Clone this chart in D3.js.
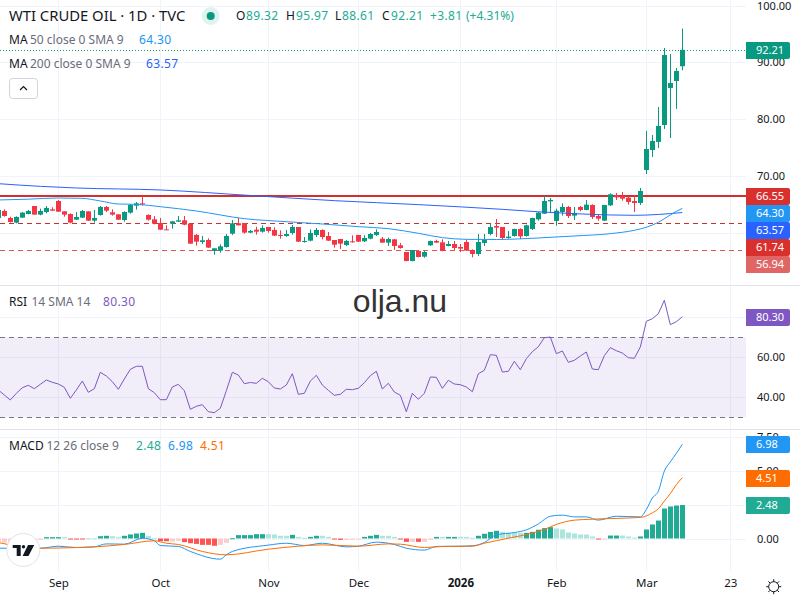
<!DOCTYPE html>
<html>
<head>
<meta charset="utf-8">
<title>WTI Crude Oil</title>
<script src="https://cdn.jsdelivr.net/npm/d3@7"></script>
<style>
  html, body { margin: 0; padding: 0; background: #fff; }
  svg { display: block; font-family: "Noto Sans", sans-serif; }
</style>
</head>
<body>
<svg id="chart" width="800" height="600"></svg>
<script>
// Daily candles, one row of ten per line
const open = [
  62.60, 63.84, 62.61, 61.79, 62.67, 63.31, 64.72, 63.20, 63.66, 64.13,
  65.60, 63.78, 63.31, 62.31, 62.67, 63.78, 62.14, 63.14, 64.55, 63.61,
  63.25, 62.26, 63.55, 64.78, 65.19, 63.14, 62.37, 61.73, 60.61, 61.61,
  61.96, 62.20, 61.61, 59.62, 58.38, 58.73, 56.80, 56.86, 57.50, 59.85,
  61.67, 61.73, 60.03, 60.55, 60.20, 61.02, 60.50, 59.62, 59.44, 59.97,
  61.02, 58.38, 58.62, 59.62, 60.50, 59.44, 58.73, 58.91, 57.85, 58.50,
  59.62, 58.50, 58.97, 59.62, 58.97, 58.27, 58.85, 57.80, 56.62, 55.04,
  56.80, 55.80, 57.80, 58.56, 58.32, 57.68, 58.03, 57.50, 58.38, 56.97,
  56.27, 58.21, 59.79, 61.20, 61.02, 59.09, 59.44, 60.67, 59.44, 60.67,
  62.37, 63.37, 65.54, 62.08, 63.66, 64.55, 63.02, 64.55, 64.02, 64.90,
  62.96, 62.14, 64.84, 66.66, 66.48, 66.19, 65.60, 65.25, 71.06, 74.58,
  76.00, 78.98, 85.50, 86.73, 89.32
];
const high = [
  64.13, 64.13, 62.84, 62.90, 63.66, 64.02, 64.72, 64.25, 64.72, 64.49,
  65.78, 63.78, 63.43, 63.66, 64.02, 63.78, 64.02, 64.72, 64.72, 64.13,
  63.25, 63.78, 65.07, 65.43, 66.37, 63.25, 62.96, 62.61, 61.32, 62.08,
  62.96, 62.96, 61.61, 59.79, 59.44, 59.03, 57.27, 57.97, 59.79, 62.26,
  62.61, 61.73, 60.50, 61.08, 61.32, 61.02, 60.97, 60.44, 60.50, 61.38,
  61.02, 59.26, 60.61, 60.85, 60.61, 60.14, 58.73, 58.91, 58.73, 59.56,
  59.62, 59.56, 59.97, 60.61, 59.26, 59.15, 58.91, 58.21, 56.62, 56.97,
  56.86, 56.80, 58.62, 58.79, 58.85, 58.56, 58.56, 58.03, 58.85, 57.09,
  59.79, 59.79, 61.55, 62.43, 61.02, 60.32, 60.73, 60.79, 61.43, 62.67,
  63.66, 66.48, 66.13, 64.25, 65.19, 64.72, 64.55, 64.72, 65.78, 65.01,
  63.31, 64.90, 66.95, 67.01, 67.19, 66.37, 66.60, 67.89, 77.93, 77.22,
  82.15, 92.54, 91.48, 89.02, 95.97
];
const low = [
  62.26, 62.84, 61.79, 61.67, 62.61, 63.25, 63.20, 63.08, 63.43, 63.84,
  63.66, 62.84, 61.67, 62.26, 62.61, 62.08, 61.79, 63.02, 63.66, 63.02,
  62.26, 61.96, 63.37, 64.08, 64.78, 62.14, 61.49, 60.50, 60.50, 60.73,
  61.90, 61.32, 58.03, 57.74, 58.03, 57.33, 56.15, 56.50, 57.39, 59.62,
  61.26, 59.85, 59.91, 59.67, 60.03, 60.03, 59.44, 58.97, 59.32, 59.67,
  58.38, 58.27, 58.50, 59.26, 58.85, 58.56, 57.39, 57.15, 57.68, 58.27,
  58.38, 58.38, 58.85, 59.44, 58.21, 57.68, 56.97, 57.21, 54.98, 54.98,
  55.68, 55.62, 57.68, 58.21, 56.74, 57.62, 56.97, 56.62, 56.80, 55.68,
  55.92, 57.68, 59.56, 59.26, 58.91, 58.97, 59.32, 58.91, 59.32, 60.50,
  62.14, 63.31, 63.61, 61.26, 63.02, 62.61, 62.26, 63.78, 63.96, 62.43,
  62.14, 62.08, 64.72, 65.78, 65.66, 64.96, 63.66, 64.90, 70.36, 73.35,
  74.93, 78.28, 76.69, 81.80, 88.61
];
const close = [
  64.02, 62.96, 61.90, 62.78, 63.55, 63.84, 63.20, 63.84, 64.37, 63.90,
  63.72, 63.20, 61.79, 62.78, 63.84, 62.14, 62.61, 64.55, 63.90, 63.20,
  62.31, 63.66, 64.90, 65.19, 65.07, 62.31, 61.61, 60.55, 60.55, 62.02,
  62.20, 61.43, 58.09, 58.44, 58.68, 57.39, 57.27, 57.62, 59.44, 61.67,
  61.32, 60.03, 60.32, 60.20, 60.85, 60.32, 59.50, 59.50, 59.79, 61.02,
  58.44, 58.56, 59.97, 60.50, 59.26, 58.62, 57.91, 58.09, 58.56, 58.38,
  58.44, 59.09, 59.79, 60.14, 58.27, 58.91, 57.68, 57.33, 55.04, 56.97,
  55.74, 56.62, 58.56, 58.27, 56.80, 58.03, 57.33, 57.21, 56.86, 56.27,
  58.38, 58.73, 61.02, 60.91, 59.09, 59.32, 60.67, 59.38, 61.32, 62.61,
  63.55, 65.60, 65.78, 63.90, 64.55, 62.96, 63.49, 64.02, 64.96, 62.78,
  62.49, 64.90, 66.78, 66.25, 66.01, 65.43, 65.25, 67.36, 74.76, 76.17,
  78.81, 91.31, 86.38, 88.49, 92.21
];

// Moving averages, sampled at these bars
const ma50Bars = [0, 5, 10, 14, 17, 20, 23, 27, 33, 41, 48, 54, 60, 65, 70, 74, 78, 83, 90, 96, 102, 106, 108, 110, 112, 113, 114];
const ma50Values = [65.78, 65.92, 66.13, 66.07, 65.60, 65.07, 65.01, 64.60, 63.84, 62.49, 61.96, 61.55, 61.08, 60.73, 59.91, 59.15, 58.85, 58.82, 59.09, 59.44, 59.85, 60.44, 60.97, 61.85, 63.14, 63.78, 64.30];
const ma200Bars = [0, 7, 13, 27, 42, 56, 70, 84, 90, 96, 102, 106, 110, 114];
const ma200Values = [68.65, 68.18, 67.89, 67.54, 66.57, 65.66, 64.96, 64.13, 63.70, 63.37, 63.14, 63.08, 63.23, 63.57];

// Relative strength index per bar
const rsiValues = [
  43.65, 41.15, 38.65, 41.98, 44.80, 46.00, 44.30, 46.50, 48.65, 47.50,
  46.65, 45.00, 39.50, 43.65, 48.15, 42.50, 44.30, 52.50, 50.65, 47.80,
  44.00, 49.15, 54.00, 55.50, 55.50, 44.30, 42.30, 38.80, 38.80, 45.15,
  46.50, 43.30, 34.00, 35.50, 36.30, 32.80, 32.30, 34.50, 43.30, 52.50,
  51.15, 46.80, 47.40, 47.00, 49.50, 47.80, 44.65, 44.15, 46.15, 51.80,
  41.50, 42.00, 48.15, 51.00, 46.15, 43.50, 41.00, 41.50, 44.00, 43.80,
  44.50, 47.30, 50.80, 53.00, 44.15, 47.00, 42.65, 41.00, 32.80, 42.00,
  39.00, 42.00, 50.15, 50.00, 44.50, 48.50, 46.65, 46.30, 45.15, 42.80,
  51.80, 53.50, 61.30, 61.00, 52.65, 53.00, 58.00, 53.80, 59.30, 62.80,
  65.30, 69.80, 70.15, 61.80, 63.15, 57.50, 58.50, 60.65, 62.65, 54.15,
  53.80, 60.80, 64.80, 63.30, 62.15, 59.80, 59.50, 65.15, 78.00, 79.30,
  81.80, 88.50, 76.30, 77.80, 80.30
];

// MACD histogram and its four shades: G rising, g easing, R falling, r recovering
const histValues = [
  -0.25, -0.30, -0.30, -0.25, -0.20, -0.20, -0.15, -0.10, 0.10, 0.10,
  0.10, 0.10, -0.03, -0.05, -0.03, 0.02, 0.02, 0.17, 0.20, 0.17,
  0.10, 0.20, 0.30, 0.37, 0.42, 0.20, 0.02, -0.20, -0.20, -0.22,
  -0.17, -0.27, -0.35, -0.40, -0.47, -0.47, -0.54, -0.47, -0.32, 0.02,
  0.25, 0.25, 0.25, 0.32, 0.32, 0.32, 0.30, 0.20, 0.20, 0.27,
  0.12, 0.05, 0.12, 0.20, 0.20, 0.12, -0.05, -0.10, -0.10, -0.10,
  -0.05, 0.12, 0.20, 0.27, 0.20, 0.20, 0.12, -0.05, -0.25, -0.25,
  -0.25, -0.25, -0.10, 0.12, 0.12, 0.12, 0.12, 0.12, 0.12, 0.05,
  0.20, 0.35, 0.49, 0.57, 0.49, 0.42, 0.42, 0.42, 0.42, 0.49,
  0.65, 0.77, 0.84, 0.74, 0.67, 0.44, 0.37, 0.30, 0.30, 0.15,
  -0.07, -0.02, 0.22, 0.22, 0.22, 0.15, 0.07, 0.15, 0.67, 1.04,
  1.33, 2.22, 2.37, 2.44, 2.48
];
const histShades = [
  "r","r","r","r","r","r","r","r","G","G",
  "G","g","R","R","R","g","g","G","G","g",
  "g","G","G","G","G","g","g","R","R","r",
  "r","R","R","R","R","R","R","r","r","G",
  "G","G","G","G","G","g","g","g","g","G",
  "g","g","G","G","g","g","R","R","r","r",
  "r","G","G","G","g","g","g","R","R","r",
  "R","r","r","G","g","G","G","g","g","g",
  "G","G","G","G","g","g","g","g","G","G",
  "G","G","G","g","g","g","g","g","g","g",
  "R","r","G","G","g","g","g","G","G","G",
  "G","G","G","G","G"
];
const shadeColors = { G: "#22ab94", g: "#ace5dc", R: "#ff5252", r: "#fccbcd" };

// MACD and signal lines, sampled at these bars
const macdBars = [0, 7, 10, 13, 16, 18, 21, 24, 26, 27, 30, 32, 37, 38, 39, 45, 48, 51, 54, 58, 60, 63, 66, 68, 71, 73, 77, 79, 81, 83, 86, 88, 90, 92, 94, 96, 98, 100, 103, 107, 108, 109, 110, 111, 112, 113, 114];
const macdValues = [-0.72, -0.72, -0.57, -0.67, -0.62, -0.40, -0.42, 0.02, -0.17, -0.52, -0.59, -0.96, -1.53, -1.21, -0.96, -0.49, -0.35, -0.52, -0.35, -0.62, -0.57, -0.27, -0.44, -0.72, -0.86, -0.59, -0.57, -0.54, -0.30, 0.27, 0.44, 0.64, 1.08, 1.65, 1.73, 1.60, 1.60, 1.36, 1.65, 1.60, 2.15, 3.00, 3.50, 4.99, 5.68, 6.30, 6.98];
const signalBars = [0, 7, 13, 16, 21, 26, 28, 30, 34, 38, 45, 50, 54, 60, 65, 67, 71, 74, 79, 81, 85, 89, 91, 93, 96, 99, 102, 107, 109, 110, 111, 112, 113, 114];
const signalValues = [-0.30, -0.72, -0.67, -0.62, -0.44, -0.17, -0.35, -0.44, -0.96, -1.21, -0.79, -0.57, -0.47, -0.57, -0.40, -0.42, -0.67, -0.59, -0.57, -0.35, 0.02, 0.40, 0.67, 1.04, 1.36, 1.43, 1.48, 1.56, 1.90, 2.20, 2.77, 3.33, 3.98, 4.51];

// Axis ticks
const timeTickBars = [10, 27, 45, 60, 77, 93, 108, 122];
const timeTickLabels = ["Sep", "Oct", "Nov", "Dec", "2026", "Feb", "Mar", "23"];
const priceTicks = [100, 90, 80, 70, 60];
const rsiTicks = [80, 60, 40];
const macdTicks = [7.5, 5, 2.5, 0];

// Horizontal levels
const resistanceLevel = 66.55;
const supportLevels = [61.74, 56.94];
const supportColors = ["#c9302c", "#e25555"];
const rsiBandLimits = [70, 30];
const lastClose = 92.21;
const ma50Last = 64.30;
const ma200Last = 63.57;
const rsiLast = 80.30;
const histLast = 2.48;
const macdLast = 6.98;
const signalLast = 4.51;

const UP = "#089981", DOWN = "#f23645", GRID = "#f0f3fa", SEP = "#e0e3eb";
const LEGEND_UP = "#22ab94";
const INK = "#131722", MUTED = "#6a6d78";
const PLOT_RIGHT = 746;
const fontSans = '"Noto Sans", sans-serif';

const svg = d3.select("#chart");

// Scales: every pane shares the bar scale
const x = d3.scaleLinear().domain([0, 122]).range([-1.67, 730.33]);
const yPrice = d3.scaleLinear().domain([60, 100]).range([232.8, 5.6]);
const yRsi = d3.scaleLinear().domain([40, 80]).range([397.3, 317.3]);
const yMacd = d3.scaleLinear().domain([0, 7.5]).range([538.5, 437.25]);

// Background grid
const gridLayer = svg.append("g").attr("stroke", GRID).attr("stroke-width", 1);
function hGrid(scale, ticks) {
  gridLayer.selectAll(null).data(ticks).join("line")
    .attr("x1", 0).attr("x2", PLOT_RIGHT)
    .attr("y1", d => Math.round(scale(d)) + 0.5)
    .attr("y2", d => Math.round(scale(d)) + 0.5);
}
hGrid(yPrice, priceTicks);
hGrid(yRsi, rsiTicks);
hGrid(yMacd, macdTicks);
gridLayer.selectAll(null).data(timeTickBars).join("line")
  .attr("x1", d => Math.round(x(d)) + 0.5).attr("x2", d => Math.round(x(d)) + 0.5)
  .attr("y1", 0).attr("y2", 571);

// Pane separators
svg.append("g").attr("stroke", SEP).selectAll("line").data([285.5, 429.5]).join("line")
  .attr("x1", 0).attr("x2", 800).attr("y1", d => d).attr("y2", d => d);

// Price levels sit behind the candles
svg.append("line").attr("x1", 0).attr("x2", PLOT_RIGHT)
  .attr("y1", Math.round(yPrice(resistanceLevel))).attr("y2", Math.round(yPrice(resistanceLevel)))
  .attr("stroke", "#d32f2f").attr("stroke-width", 2);
svg.append("g").selectAll("line").data(supportLevels).join("line")
  .attr("x1", 0).attr("x2", 742)
  .attr("y1", d => Math.round(yPrice(d)) + 0.5).attr("y2", d => Math.round(yPrice(d)) + 0.5)
  .attr("stroke", (d, i) => supportColors[i]).attr("stroke-dasharray", "5 4");

// Candles
const candles = svg.append("g").selectAll("g").data(open.map((o, i) => i)).join("g")
  .attr("fill", i => close[i] >= open[i] ? UP : DOWN);
candles.append("rect")
  .attr("x", i => Math.round(x(i))).attr("width", 1)
  .attr("y", i => yPrice(high[i]))
  .attr("height", i => yPrice(low[i]) - yPrice(high[i]));
candles.append("rect")
  .attr("x", i => Math.round(x(i)) - 2).attr("width", 5)
  .attr("y", i => yPrice(Math.max(open[i], close[i])))
  .attr("height", i => Math.max(1, Math.abs(yPrice(open[i]) - yPrice(close[i]))));

// Moving averages
function sampledLine(bars, values, scale) {
  return d3.line().x((d, i) => x(bars[i])).y(d => scale(d)).curve(d3.curveMonotoneX)(values);
}
svg.append("path").attr("d", sampledLine(ma200Bars, ma200Values, yPrice))
  .attr("fill", "none").attr("stroke", "#2962ff").attr("stroke-width", 1);
svg.append("path").attr("d", sampledLine(ma50Bars, ma50Values, yPrice))
  .attr("fill", "none").attr("stroke", "#2196f3").attr("stroke-width", 1);

// Last close marker line
svg.append("line").attr("x1", 0).attr("x2", PLOT_RIGHT)
  .attr("y1", Math.round(yPrice(lastClose)) + 0.5).attr("y2", Math.round(yPrice(lastClose)) + 0.5)
  .attr("stroke", UP).attr("stroke-dasharray", "1 2");

// RSI pane
svg.append("rect").attr("x", 0).attr("width", PLOT_RIGHT)
  .attr("y", yRsi(rsiBandLimits[0])).attr("height", yRsi(rsiBandLimits[1]) - yRsi(rsiBandLimits[0]))
  .attr("fill", "#7e57c2").attr("fill-opacity", 0.1);
svg.append("g").selectAll("line").data(rsiBandLimits).join("line")
  .attr("x1", 0).attr("x2", PLOT_RIGHT)
  .attr("y1", d => Math.round(yRsi(d)) + 0.5).attr("y2", d => Math.round(yRsi(d)) + 0.5)
  .attr("stroke", "#787b86").attr("stroke-dasharray", "5 4");
svg.append("path")
  .attr("d", d3.line().x((d, i) => x(i)).y(d => yRsi(d))(rsiValues))
  .attr("fill", "none").attr("stroke", "#7e57c2").attr("stroke-width", 1);

// MACD pane
svg.append("g").selectAll("rect").data(histValues).join("rect")
  .attr("x", (d, i) => Math.round(x(i)) - 2).attr("width", 5)
  .attr("y", d => d >= 0 ? yMacd(d) : yMacd(0))
  .attr("height", d => Math.max(1, Math.abs(yMacd(d) - yMacd(0))))
  .attr("fill", (d, i) => shadeColors[histShades[i]]);
svg.append("path").attr("d", sampledLine(macdBars, macdValues, yMacd))
  .attr("fill", "none").attr("stroke", "#2196f3").attr("stroke-width", 1);
svg.append("path").attr("d", sampledLine(signalBars, signalValues, yMacd))
  .attr("fill", "none").attr("stroke", "#ff6d00").attr("stroke-width", 1);

// Right-hand value axes and bottom time axis
function styleAxis(g) {
  g.select(".domain").remove();
  g.selectAll("text").attr("font-family", fontSans).attr("font-size", 11).attr("fill", INK);
}
const fmt = d3.format(".2f");
function valueAxis(scale, ticks) {
  svg.append("g").attr("transform", "translate(757,0)")
    .call(d3.axisRight(scale).tickValues(ticks).tickFormat(fmt).tickSize(0).tickPadding(0))
    .call(styleAxis);
}
valueAxis(yPrice, priceTicks);
valueAxis(yRsi, rsiTicks);
valueAxis(yMacd, macdTicks);

svg.append("g").attr("transform", "translate(0,579)")
  .call(d3.axisBottom(x).tickValues(timeTickBars)
    .tickFormat((d, i) => timeTickLabels[i]).tickSize(0).tickPadding(0))
  .call(styleAxis)
  .selectAll("text").attr("dy", "0.71em").attr("font-size", 11.5)
  .attr("font-weight", (d, i) => timeTickLabels[i] === "2026" ? 700 : 400);

// Value tags: stacked so neighbours never overlap
function tags(items, scale) {
  let nextTop = -Infinity;
  items.forEach(([value, color]) => {
    const top = Math.max(Math.ceil(scale(value) - 8.5), nextTop);
    nextTop = top + 17;
    const g = svg.append("g").attr("transform", `translate(746,${top})`);
    g.append("path").attr("d", "M0,0H42a2,2 0 0 1 2,2V15a2,2 0 0 1 -2,2H0Z").attr("fill", color);
    g.append("text").attr("x", 10).attr("y", 8.5).attr("dy", "0.35em")
      .attr("font-size", 11).attr("fill", "#fff").text(fmt(value));
  });
}
tags([[lastClose, UP]], yPrice);
tags([
  [resistanceLevel, "#d9302e"],
  [ma50Last, "#2196f3"],
  [ma200Last, "#2962ff"],
  [supportLevels[0], "#d9302e"],
  [supportLevels[1], "#e06666"]
], yPrice);
tags([[rsiLast, "#7e57c2"]], yRsi);
tags([[macdLast, "#2196f3"]], yMacd);
tags([[signalLast, "#ff6d00"]], yMacd);
tags([[histLast, "#22ab94"]], yMacd);

// Legend rows: each chunk starts at its own column
function legend(py, size, chunks) {
  chunks.forEach(([px, s, color, spacing]) => {
    svg.append("text").attr("x", px).attr("y", py).attr("dy", "0.35em").attr("font-size", size)
      .attr("fill", color).attr("letter-spacing", spacing || 0).attr("xml:space", "preserve").text(s);
  });
}
legend(16, 14.8, [[9, "WTI CRUDE OIL · 1D · TVC", INK]]);
svg.append("circle").attr("cx", 210.7).attr("cy", 16).attr("r", 9).attr("fill", "#dff3ef");
svg.append("circle").attr("cx", 210.7).attr("cy", 16).attr("r", 4).attr("fill", UP);
legend(16, 12, [
  [236, "O", INK], [246, "89.32", LEGEND_UP, 0.35],
  [286, "H", INK], [296, "95.97", LEGEND_UP, 0.35],
  [335, "L", INK], [342, "88.61", LEGEND_UP, 0.35],
  [382, "C", INK], [391, "92.21", LEGEND_UP, 0.35],
  [430, "+3.81", LEGEND_UP, 0.35], [466, "(+4.31%)", LEGEND_UP]
]);
legend(40, 12, [[9, "MA", INK], [30, "50 close 0 SMA 9", MUTED], [139, "64.30", "#2196f3", 0.35]]);
legend(64, 12, [[9, "MA", INK], [30, "200 close 0 SMA 9", MUTED], [146, "63.57", "#2962ff", 0.35]]);
legend(302, 12, [[9, "RSI", INK], [31.5, "14 SMA 14", MUTED], [103, "80.30", "#7e57c2", 0.35]]);
legend(446, 12, [[9, "MACD", INK], [46.5, "12 26 close 9", MUTED],
  [136, "2.48", LEGEND_UP, 0.35], [168, "6.98", "#2196f3", 0.35], [200, "4.51", "#ff6d00", 0.35]]);

// Collapse button
svg.append("rect").attr("x", 9.5).attr("y", 78.5).attr("width", 28).attr("height", 20).attr("rx", 3)
  .attr("fill", "#fff").attr("stroke", "#d1d4dc");
svg.append("path").attr("d", "M20,90L23.5,86.5L27,90").attr("fill", "none").attr("stroke", INK).attr("stroke-width", 1.2);

// Site name across the RSI pane
svg.append("text").attr("x", 400).attr("y", 311.5).attr("text-anchor", "middle")
  .attr("font-family", '"Liberation Sans", sans-serif').attr("font-size", 32).attr("fill", "#333").text("olja.nu");

// Platform badge
svg.append("circle").attr("cx", 23.3).attr("cy", 550).attr("r", 16.5).attr("fill", "#fff").attr("stroke", "#e0e3eb");
svg.append("path").attr("fill", "#131722")
  .attr("d", "M12.7,545H20.7V556H16.7V548H12.7Z M28,545H34.2L28.5,556H22.6Z");
svg.append("circle").attr("cx", 23.5).attr("cy", 546.7).attr("r", 1.7).attr("fill", "#131722");

// Display settings icon
const sun = svg.append("g").attr("transform", "translate(773.7,586.7)").attr("fill", "none").attr("stroke", INK);
sun.append("circle").attr("r", 5);
sun.selectAll("line").data(d3.range(8)).join("line")
  .attr("x1", d => 5 * Math.cos(d * Math.PI / 4)).attr("y1", d => 5 * Math.sin(d * Math.PI / 4))
  .attr("x2", d => 7.5 * Math.cos(d * Math.PI / 4)).attr("y2", d => 7.5 * Math.sin(d * Math.PI / 4));
</script>
</body>
</html>
